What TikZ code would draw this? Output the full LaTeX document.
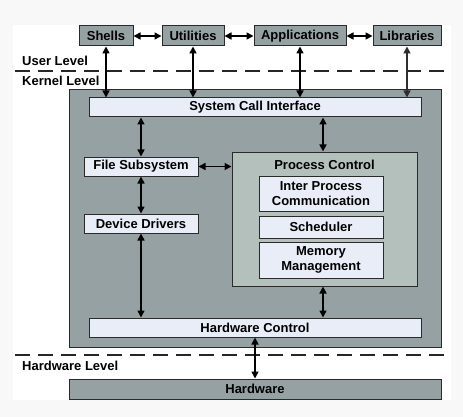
\documentclass[tikz,border=0pt]{standalone}
\usepackage{fontspec}
\setmainfont{Liberation Sans}
\usetikzlibrary{arrows.meta}
\definecolor{pagebg}{HTML}{F8F8F8}
\definecolor{steel}{HTML}{96A1A4}
\definecolor{sage}{HTML}{B4C0BC}
\definecolor{pale}{HTML}{E9EDF7}
\definecolor{edge}{HTML}{2A2A2A}
\tikzset{
  lbl/.style={font=\fontsize{13}{15.5}\selectfont\bfseries, text=black},
  darkbox/.style={lbl, draw=edge, line width=1pt, fill=steel, inner sep=0pt},
  palebox/.style={lbl, draw=edge, line width=1pt, fill=pale, inner sep=0pt, align=center},
  sagebox/.style={draw=edge, line width=1pt, fill=sage, inner sep=0pt},
  lvl/.style={lbl, inner sep=0pt, anchor=west},
  link/.style={line width=1.6pt, draw=black, {Triangle[length=7pt,width=7pt]}-{Triangle[length=7pt,width=7pt]}},
  greylink/.style={link, draw=black!82, line width=1.5pt},
  divider/.style={line width=2pt, draw=black!85, dash pattern=on 15pt off 8pt},
}
\begin{document}
\begin{tikzpicture}[x=1pt,y=-1pt]
\useasboundingbox (0,0) rectangle (463,417);
\fill[pagebg] (0,0) rectangle (463,417);
\fill[white] (13,25) rectangle (451,400);

% dividers
\coordinate (d1a) at (15,71);
\coordinate (d1b) at (447,71);
\coordinate (d2a) at (15,355);
\coordinate (d2b) at (447,355);
\draw[divider] (d1a) -- (d1b);
\draw[divider] (d2a) -- (d2b);

% level labels
\node[lvl] (ulvl) at (22,61) {User Level};
\node[lvl] (klvl) at (22,81) {Kernel Level};
\node[lvl] (hlvl) at (22,366) {Hardware Level};

% user level boxes
\node[darkbox, minimum width=54pt, minimum height=20pt] (shells) at (106,36) {Shells};
\node[darkbox, minimum width=62pt, minimum height=20pt] (utils) at (193,36) {Utilities};
\node[darkbox, minimum width=92pt, minimum height=20pt] (apps) at (300,36) {Applications};
\node[darkbox, minimum width=68pt, minimum height=20pt] (libs) at (407,36) {Libraries};

% kernel
\node[darkbox, minimum width=372pt, minimum height=257pt] (kernel) at (255,218.5) {};
\node[palebox, minimum width=332pt, minimum height=19pt] (sci) at (255,107.5) {System Call Interface};
\node[palebox, minimum width=114pt, minimum height=19pt] (fs) at (141,166.5) {File Subsystem};
\node[palebox, minimum width=114pt, minimum height=19pt] (dd) at (141,223.5) {Device Drivers};
\node[sagebox, minimum width=185pt, minimum height=134pt] (pc) at (324.5,219) {};
\node[lbl, inner sep=0pt] (pctitle) at (324.5,165) {Process Control};
\node[palebox, minimum width=124pt, minimum height=35pt] (ipc) at (321,193.5) {Inter Process\\Communication};
\node[palebox, minimum width=124pt, minimum height=22pt] (sched) at (321,227) {Scheduler};
\node[palebox, minimum width=124pt, minimum height=36pt] (mm) at (321,260) {Memory\\Management};
\node[palebox, minimum width=332pt, minimum height=19pt] (hc) at (255,327.5) {Hardware Control};

% hardware
\node[darkbox, minimum width=372pt, minimum height=20pt] (hw) at (255,389) {Hardware};

% user-level horizontal links
\draw[link] (shells.east) -- (utils.west);
\draw[link] (utils.east) -- (apps.west);
\draw[link] (apps.east) -- (libs.west);

% user to kernel
\draw[link] (shells.south) -- (shells.south |- sci.north);
\draw[link] (utils.south) -- (utils.south |- sci.north);
\draw[link] (apps.south) -- (apps.south |- sci.north);
\draw[greylink] (libs.south) -- (libs.south |- sci.north);

% kernel internals
\draw[link] (fs.north |- sci.south) -- (fs.north);
\draw[link] ([xshift=-1.5pt]pc.north |- sci.south) -- ([xshift=-1.5pt]pc.north);
\draw[link] (fs.east) -- (fs.east -| pc.west);
\draw[link] (fs.south) -- (dd.north);
\draw[link] (dd.south) -- (dd.south |- hc.north);
\draw[link] ([xshift=-1.5pt]pc.south) -- ([xshift=-1.5pt]pc.south |- hc.north);
\draw[link] (hc.south) -- (hw.north);
\end{tikzpicture}
\end{document}
